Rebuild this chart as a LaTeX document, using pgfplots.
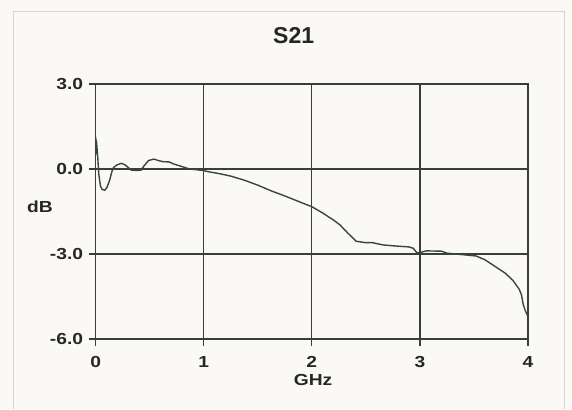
\documentclass[border=0pt]{standalone}
\usepackage{pgfplots}
\pgfplotsset{compat=1.18}
\usepackage{fontspec}
\setmainfont{Liberation Sans}
\newfontfamily\widefont[FakeStretch=1.2]{Liberation Sans}
\definecolor{paper}{HTML}{FAF9F6}
\definecolor{framegray}{HTML}{D4D4D2}
\definecolor{griddark}{HTML}{3A3E3B}
\definecolor{trace}{HTML}{38463F}

\begin{document}
\begin{tikzpicture}
 % page background and faint outer frame of the scan
 \fill[paper] (0pt,0pt) rectangle (572pt,409pt);
 \draw[framegray, line width=1pt] (13pt,0pt) -- (13pt,397pt) -- (564pt,397pt) -- (564pt,0pt);
 \begin{axis}[at={(95.6pt,70pt)}, anchor=south west,
  scale only axis, width=432.4pt, height=255pt,
  xmin=0, xmax=4, ymin=-6, ymax=3,
  xtick={0,1,2,3,4}, xticklabels={0,1,2,3,4},
  ytick={-6,-3,0,3}, yticklabels={-6.0,-3.0,0.0,3.0},
  xtick pos=lower, ytick pos=lower,
  xtick align=outside, ytick align=outside, major tick length=7pt,
  every tick/.append style={griddark, line width=1.3pt},
  axis line style={griddark, line width=1.3pt},
  grid=major, major grid style={griddark, line width=1.2pt},
  tick label style={font=\widefont\bfseries\fontsize{16}{18}\selectfont, text=black!85},
  xticklabel style={yshift=-7pt},
  yticklabel style={xshift=-2pt},
  /pgf/number format/assume math mode=true,
  title={S21},
  title style={at={(0.458,1.165)}, anchor=center, font=\bfseries\fontsize{23}{25}\selectfont, text=black!85},
  xlabel={GHz},
  xlabel style={at={(0.503,-0.161)}, anchor=center, font=\widefont\bfseries\fontsize{16}{18}\selectfont, text=black!85},
  every axis y label/.style={at={(-0.1286,0.518)}, anchor=center, font=\widefont\bfseries\fontsize{16}{18}\selectfont, text=black!85},
  ylabel={dB},
 ]
  \addplot[trace, line width=1.4pt, mark=none] coordinates {
   (0.000,0.50) (0.005,1.00) (0.010,0.90) (0.020,0.40) (0.030,-0.20)
   (0.045,-0.60) (0.060,-0.72) (0.085,-0.75) (0.105,-0.65) (0.130,-0.40)
   (0.150,-0.10) (0.165,0.05) (0.200,0.15) (0.240,0.20) (0.270,0.15)
   (0.300,0.06) (0.330,-0.04) (0.380,-0.05) (0.420,-0.04) (0.450,0.12)
   (0.490,0.30) (0.540,0.35) (0.580,0.30) (0.620,0.26) (0.680,0.25)
   (0.720,0.18) (0.770,0.12) (0.870,0.00) (0.990,-0.05) (1.050,-0.10)
   (1.140,-0.16) (1.250,-0.25) (1.380,-0.40) (1.500,-0.57) (1.630,-0.78)
   (1.750,-0.95) (1.880,-1.15) (2.000,-1.33) (2.100,-1.55) (2.200,-1.80)
   (2.260,-1.97) (2.330,-2.25) (2.410,-2.55) (2.500,-2.60) (2.560,-2.60)
   (2.660,-2.68) (2.780,-2.72) (2.900,-2.75) (2.940,-2.80) (2.970,-2.95)
   (3.000,-2.95) (3.060,-2.89) (3.200,-2.90) (3.250,-2.97) (3.330,-3.00)
   (3.520,-3.07) (3.600,-3.20) (3.700,-3.45) (3.790,-3.68) (3.860,-3.93)
   (3.920,-4.25) (3.940,-4.45) (3.955,-4.77) (3.975,-5.00) (4.000,-5.20)
  };
 \end{axis}
\end{tikzpicture}
\end{document}
